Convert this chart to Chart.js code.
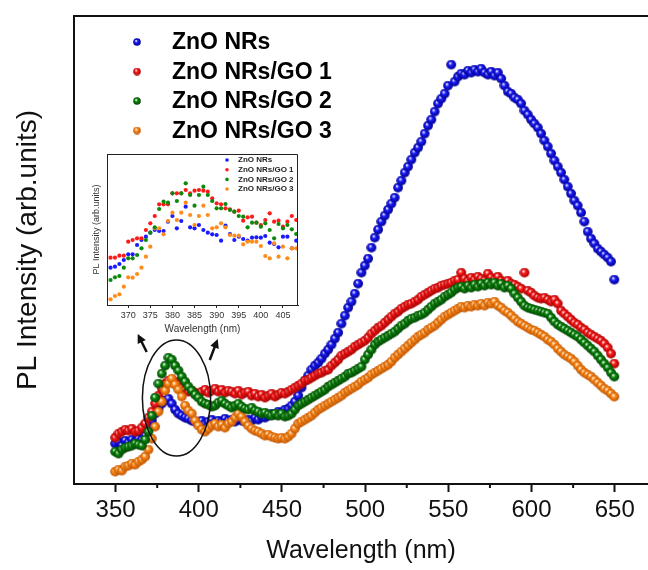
<!DOCTYPE html>
<html>
<head>
<meta charset="utf-8">
<script src="https://cdn.jsdelivr.net/npm/chart.js@4.4.1/dist/chart.umd.min.js"></script>
<style>
  body { margin: 0; background: #fff; overflow: hidden; }
  #wrap { position: relative; width: 648px; height: 570px; }
  #inset { position: absolute; left: 80px; top: 150px; }
</style>
</head>
<body>
<div id="wrap">
  <canvas id="myChart" width="648" height="570"></canvas>
  <canvas id="inset" width="222" height="190"></canvas>
</div>
<script>
// main spectra, 2 nm steps, intensity in arbitrary units
const wavelength = [
  350,352,354,356,358,360,362,364,366,368,
  370,372,374,376,378,380,382,384,386,388,
  390,392,394,396,398,400,402,404,406,408,
  410,412,414,416,418,420,422,424,426,428,
  430,432,434,436,438,440,442,444,446,448,
  450,452,454,456,458,460,462,464,466,468,
  470,472,474,476,478,480,482,484,486,488,
  490,492,494,496,498,500,502,504,506,508,
  510,512,514,516,518,520,522,524,526,528,
  530,532,534,536,538,540,542,544,546,548,
  550,552,554,556,558,560,562,564,566,568,
  570,572,574,576,578,580,582,584,586,588,
  590,592,594,596,598,600,602,604,606,608,
  610,612,614,616,618,620,622,624,626,628,
  630,632,634,636,638,640,642,644,646,648,
  650
];
const znoNRs = [
  40,42,38,43,41,44,42,45,44,48,
  55,63,70,75,80,83,85,80,74,70,
  68,66,65,63,62,61,63,60,62,64,
  61,63,62,65,63,64,62,65,63,62,
  64,63,66,64,67,66,68,70,69,72,
  71,74,75,78,82,88,96,103,108,114,
  118,121,125,130,134,139,145,151,160,168,
  176,182,190,200,211,218,225,236,246,254,
  262,268,274,280,286,296,303,311,317,324,
  331,336,342,350,358,364,372,380,385,390,
  398,419,402,407,410,409,413,411,414,412,
  415,411,409,412,408,411,405,398,392,390,
  386,384,380,373,369,364,360,356,350,343,
  337,330,323,317,311,304,297,290,283,278,
  271,262,252,245,240,235,232,229,226,222,
  204
];
const go1 = [
  46,50,52,54,53,55,52,53,56,60,
  66,72,80,88,95,100,103,104,102,99,
  96,94,92,93,91,90,92,94,91,93,
  95,92,94,91,93,92,90,93,89,91,
  92,88,90,87,89,86,88,90,87,89,
  91,90,92,94,96,98,100,103,104,106,
  108,110,111,113,114,118,121,124,128,130,
  132,134,137,139,141,143,146,150,153,156,
  158,161,164,167,170,172,175,177,179,180,
  182,184,187,189,191,193,195,196,198,199,
  200,201,203,204,211,205,203,206,204,207,
  205,203,210,206,204,207,203,201,203,200,
  199,197,195,211,193,191,188,186,185,186,
  184,182,184,180,173,170,167,164,161,159,
  156,154,151,149,147,145,143,140,136,130,
  120
];
const go2 = [
  32,30,34,36,37,38,40,39,38,44,
  52,68,86,100,110,118,126,124,118,113,
  107,102,97,93,89,86,82,80,79,77,
  78,81,83,80,78,76,78,80,77,75,
  74,76,73,72,70,71,69,68,70,68,
  70,67,68,70,74,78,80,82,84,86,
  88,90,92,94,97,99,101,103,105,107,
  110,111,113,115,117,124,129,134,139,142,
  144,146,148,150,152,155,158,160,163,165,
  166,168,169,171,174,177,180,182,184,187,
  189,191,194,196,197,195,198,196,199,197,
  200,198,201,199,201,198,200,196,198,195,
  190,186,182,178,176,175,174,173,172,171,
  170,166,162,159,157,155,153,151,149,147,
  144,141,138,135,132,128,124,120,116,111,
  107
];
const go3 = [
  12,14,13,17,18,20,19,22,24,27,
  34,45,57,72,82,93,100,105,99,94,
  87,78,73,70,63,58,54,52,55,58,
  60,57,59,56,60,62,66,70,67,62,
  58,55,53,52,50,48,49,47,46,45,
  46,45,47,50,55,60,62,64,66,68,
  71,74,76,78,80,82,84,86,88,91,
  93,95,97,99,102,104,106,109,111,113,
  115,117,119,122,126,129,132,135,138,141,
  144,147,149,151,154,156,158,161,164,167,
  169,171,173,175,177,176,178,177,179,178,
  180,178,181,180,182,178,176,173,171,168,
  165,162,160,158,156,154,153,151,149,147,
  144,142,139,135,132,129,127,125,122,118,
  114,111,109,107,104,101,98,95,93,90,
  87
];

// inset, 1 nm steps
const insetWavelength = [
  366,367,368,369,370,371,372,373,374,375,
  376,377,378,379,380,381,382,383,384,385,
  386,387,388,389,390,391,392,393,394,395,
  396,397,398,399,400,401,402,403,404,405,
  406,407,408
];
const insetNRs = [
  112,115,123,135,152,152,180,195,205,217,
  225,222,222,250,267,230,252,295,233,230,
  240,225,217,212,210,193,238,213,195,205,
  198,193,202,203,202,207,187,183,173,205,
  205,170,193
];
const insetGo1 = [
  142,142,148,148,190,195,200,200,225,245,
  267,302,302,302,335,335,335,345,335,343,
  345,343,340,320,305,302,290,287,280,283,
  253,263,265,247,240,255,275,250,253,235,
  250,267,255
];
const insetGo2 = [
  75,83,87,112,140,140,150,170,195,217,
  233,288,310,307,335,312,335,365,330,298,
  330,355,330,312,290,290,303,285,280,267,
  265,233,247,247,235,245,225,200,243,230,
  240,227,213
];
const insetGo3 = [
  17,27,32,55,83,82,93,112,145,175,
  230,230,212,252,277,255,277,307,270,240,
  267,298,270,230,233,245,233,210,208,208,
  182,190,190,190,177,147,140,185,145,175,
  140,170,170
];

const seriesNames = ['ZnO NRs', 'ZnO NRs/GO 1', 'ZnO NRs/GO 2', 'ZnO NRs/GO 3'];
const xTicks = [350, 400, 450, 500, 550, 600, 650];
const minorTicks = [375, 425, 475, 525, 575, 625];
const insetTicks = [370, 375, 380, 385, 390, 395, 400, 405];

const FONT = 'Arial, "Liberation Sans", sans-serif';
Chart.defaults.font.family = FONT;
Chart.defaults.color = '#111';

const colors = ['#1a1aff', '#ff1a1a', '#0c8a0c', '#ff8c1a'];
const darks = ['#000080', '#9a0000', '#004000', '#b85000'];
const drawOrder = [3, 2, 0, 1];

function ball(color, dark, r) {
  const c = document.createElement('canvas');
  c.width = c.height = Math.ceil(r * 2);
  const g = c.getContext('2d');
  const grad = g.createRadialGradient(r * 0.75, r * 0.7, r * 0.05, r, r, r);
  grad.addColorStop(0, '#ffffff');
  grad.addColorStop(0.35, color);
  grad.addColorStop(1, dark);
  g.fillStyle = grad;
  g.beginPath();
  g.arc(r, r, r - 0.2, 0, Math.PI * 2);
  g.fill();
  return c;
}

function toPoints(xs, ys) {
  return xs.map((x, i) => ({ x: x, y: ys[i] }));
}

const mainSeries = [znoNRs, go1, go2, go3];
const insetSeries = [insetNRs, insetGo1, insetGo2, insetGo3];
const balls = colors.map((c, i) => ball(c, darks[i], 5.1));
const legendBalls = colors.map((c, i) => ball(c, darks[i], 4));

function arrow(ctx, x1, y1, x2, y2) {
  const a = Math.atan2(y2 - y1, x2 - x1);
  ctx.beginPath();
  ctx.moveTo(x1, y1);
  ctx.lineTo(x2 - 5 * Math.cos(a), y2 - 5 * Math.sin(a));
  ctx.stroke();
  ctx.beginPath();
  ctx.moveTo(x2, y2);
  ctx.lineTo(x2 - 9 * Math.cos(a) + 4.5 * Math.sin(a), y2 - 9 * Math.sin(a) - 4.5 * Math.cos(a));
  ctx.lineTo(x2 - 9 * Math.cos(a) - 4.5 * Math.sin(a), y2 - 9 * Math.sin(a) + 4.5 * Math.cos(a));
  ctx.closePath();
  ctx.fill();
}

const mainDecor = {
  id: 'mainDecor',
  afterDatasetsDraw(chart) {
    const ctx = chart.ctx;
    const area = chart.chartArea;
    const x = chart.scales.x, y = chart.scales.y;
    ctx.save();
    ctx.strokeStyle = '#111';
    ctx.fillStyle = '#111';
    // top frame line
    ctx.lineWidth = 2;
    ctx.beginPath();
    ctx.moveTo(area.left, area.top);
    ctx.lineTo(chart.width, area.top);
    ctx.stroke();
    // minor ticks
    minorTicks.forEach(v => {
      const px = x.getPixelForValue(v);
      ctx.beginPath();
      ctx.moveTo(px, area.bottom);
      ctx.lineTo(px, area.bottom + 4);
      ctx.stroke();
    });
    // ellipse round the 380 nm band
    const cx = x.getPixelForValue(386.6), cy = y.getPixelForValue(86);
    const rx = x.getPixelForValue(407.1) - cx, ry = cy - y.getPixelForValue(144);
    ctx.lineWidth = 1.5;
    ctx.beginPath();
    ctx.ellipse(cx, cy, rx, ry, 0, 0, Math.PI * 2);
    ctx.stroke();
    // arrows to inset
    ctx.lineWidth = 2.5;
    arrow(ctx, x.getPixelForValue(368.7), y.getPixelForValue(132), x.getPixelForValue(363.3), y.getPixelForValue(150));
    arrow(ctx, x.getPixelForValue(406.6), y.getPixelForValue(124), x.getPixelForValue(411.4), y.getPixelForValue(145));
    // legend
    ctx.font = 'bold 23px ' + FONT;
    ctx.textBaseline = 'middle';
    ctx.fillStyle = '#000';
    seriesNames.forEach((name, i) => {
      const ly = 42 + i * 29.5;
      ctx.drawImage(legendBalls[i], 133, ly - 4);
      ctx.fillText(name, 172, ly + 1);
    });
    ctx.restore();
  }
};

new Chart(document.getElementById('myChart'), {
  type: 'scatter',
  data: {
    datasets: seriesNames.map((name, i) => ({
      label: name,
      data: toPoints(wavelength, mainSeries[i]),
      pointStyle: balls[i],
      pointRadius: 5.1,
      backgroundColor: colors[i],
      borderWidth: 0,
      order: drawOrder[i]
    }))
  },
  options: {
    responsive: false,
    animation: false,
    layout: { autoPadding: false, padding: { top: 16, right: 0, left: 0, bottom: 0 } },
    plugins: { legend: { display: false }, tooltip: { enabled: false } },
    scales: {
      x: {
        type: 'linear',
        min: 325,
        max: 670,
        afterBuildTicks: s => { s.ticks = xTicks.map(v => ({ value: v })); },
        afterFit: s => { s.height = 86; s.paddingRight = 0; s.paddingLeft = 0; },
        ticks: { font: { size: 24 }, color: '#111', padding: 4, maxRotation: 0 },
        grid: { drawOnChartArea: false, tickLength: 8, tickWidth: 2, tickColor: '#111' },
        border: { color: '#111', width: 2 },
        title: { display: true, text: 'Wavelength (nm)', font: { size: 25 }, color: '#111', padding: { bottom: 4 } }
      },
      y: {
        min: 0,
        max: 468,
        afterFit: s => { s.width = 74; s.paddingTop = 0; s.paddingBottom = 0; },
        ticks: { display: false },
        grid: { display: false },
        border: { color: '#111', width: 2 },
        title: { display: true, text: 'PL Intensity (arb.units)', font: { size: 28 }, color: '#111', padding: { top: 11 } }
      }
    }
  },
  plugins: [mainDecor]
});

const insetDecor = {
  id: 'insetDecor',
  afterDatasetsDraw(chart) {
    const ctx = chart.ctx;
    const area = chart.chartArea;
    ctx.save();
    ctx.strokeStyle = '#222';
    ctx.lineWidth = 1;
    ctx.beginPath();
    ctx.moveTo(area.left, area.top + 0.5);
    ctx.lineTo(area.right - 0.5, area.top + 0.5);
    ctx.lineTo(area.right - 0.5, area.bottom);
    ctx.stroke();
    ctx.font = 'bold 8px ' + FONT;
    ctx.textBaseline = 'middle';
    seriesNames.forEach((name, i) => {
      const ly = 10 + i * 9.7;
      ctx.beginPath();
      ctx.fillStyle = colors[i];
      ctx.arc(147, ly, 1.8, 0, Math.PI * 2);
      ctx.fill();
      ctx.fillStyle = '#222';
      ctx.fillText(name, 158, ly);
    });
    ctx.restore();
  }
};

new Chart(document.getElementById('inset'), {
  type: 'scatter',
  data: {
    datasets: seriesNames.map((name, i) => ({
      label: name,
      data: toPoints(insetWavelength, insetSeries[i]),
      pointStyle: 'circle',
      pointRadius: 2.1,
      backgroundColor: colors[i],
      borderWidth: 0,
      order: drawOrder[i]
    }))
  },
  options: {
    responsive: false,
    animation: false,
    layout: { autoPadding: false, padding: { top: 4, right: 4, left: 0, bottom: 0 } },
    plugins: { legend: { display: false }, tooltip: { enabled: false } },
    scales: {
      x: {
        type: 'linear',
        min: 365.2,
        max: 408.4,
        afterBuildTicks: s => { s.ticks = insetTicks.map(v => ({ value: v })); },
        afterFit: s => { s.height = 35; s.paddingRight = 0; s.paddingLeft = 0; },
        ticks: { font: { size: 9 }, color: '#333', padding: 2, maxRotation: 0 },
        grid: { drawOnChartArea: false, tickLength: 3, tickColor: '#222' },
        border: { color: '#222', width: 1 },
        title: { display: true, text: 'Wavelength (nm)', font: { size: 10 }, color: '#333', padding: { bottom: 5 } }
      },
      y: {
        min: 0,
        max: 453,
        afterFit: s => { s.width = 27; s.paddingTop = 0; s.paddingBottom = 0; },
        ticks: { display: false },
        grid: { display: false },
        border: { color: '#222', width: 1 },
        title: { display: true, text: 'PL Intensity (arb.units)', font: { size: 9 }, color: '#333', padding: { top: 11 } }
      }
    }
  },
  plugins: [insetDecor]
});
</script>
</body>
</html>
